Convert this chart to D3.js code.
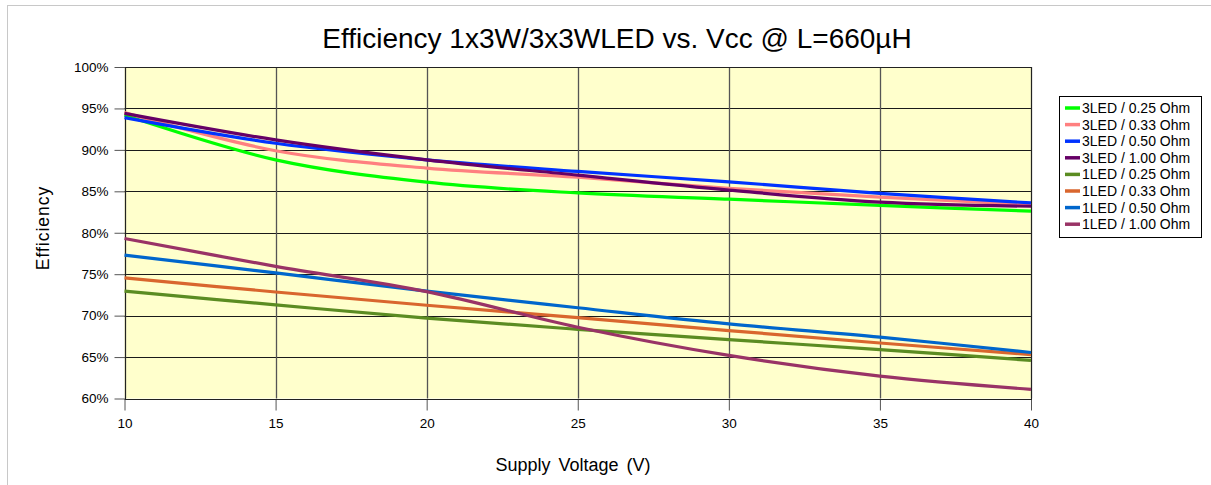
<!DOCTYPE html>
<html>
<head>
<meta charset="utf-8">
<script src="https://cdn.jsdelivr.net/npm/d3@7"></script>
<style>
  body { margin: 0; background: #fff; }
  text { font-family: "Liberation Sans", Arial, sans-serif; fill: #000; }
</style>
</head>
<body>
<svg id="chart" width="1211" height="485"></svg>
<script>
// supply voltage (V) at which efficiency was read
var voltage = [10, 15, 20, 25, 30, 35, 40];

var seriesNames = [
  "3LED / 0.25 Ohm", "3LED / 0.33 Ohm", "3LED / 0.50 Ohm", "3LED / 1.00 Ohm",
  "1LED / 0.25 Ohm", "1LED / 0.33 Ohm", "1LED / 0.50 Ohm", "1LED / 1.00 Ohm"
];
var seriesColors = [
  "#00ff00", "#ff8080", "#0033ff", "#660066",
  "#5b8c22", "#d9662e", "#0066cc", "#993366"
];

// efficiency in %
var led3_025 = [94.2, 88.8, 86.1, 84.8, 84.05, 83.3, 82.6];
var led3_033 = [94.5, 89.9, 87.8, 86.7, 85.35, 84.3, 83.4];
var led3_050 = [93.9, 90.8, 88.8, 87.4, 86.15, 84.75, 83.6];
var led3_100 = [94.4, 91.2, 88.8, 86.95, 85.15, 83.7, 83.2];
var led1_025 = [72.95, 71.3, 69.7, 68.35, 67.1, 65.9, 64.6];
var led1_033 = [74.55, 72.85, 71.25, 69.75, 68.2, 66.7, 65.3];
var led1_050 = [77.3, 75.15, 72.95, 70.95, 69.0, 67.4, 65.55];
var led1_100 = [79.3, 75.95, 72.9, 68.6, 65.2, 62.7, 61.1];

var seriesValues = [led3_025, led3_033, led3_050, led3_100,
                    led1_025, led1_033, led1_050, led1_100];

var xTicks = [10, 15, 20, 25, 30, 35, 40];
var yTicks = [60, 65, 70, 75, 80, 85, 90, 95, 100];

var svg = d3.select("#chart");

// outer chart frame
svg.append("rect")
    .attr("x", 7.5).attr("y", 5.5)
    .attr("width", 1220).attr("height", 500)
    .attr("fill", "none").attr("stroke", "#c8c8c8");

var x = d3.scaleLinear().domain([10, 40]).range([124.5, 1031]);
var y = d3.scaleLinear().domain([60, 100]).range([398.5, 67]);

// plot area
svg.append("rect")
    .attr("x", x(10)).attr("y", y(100))
    .attr("width", x(40) - x(10)).attr("height", y(60) - y(100))
    .attr("fill", "#ffffcc");

// grid
svg.append("g").selectAll("line").data(yTicks).join("line")
    .attr("x1", x(10)).attr("x2", x(40))
    .attr("y1", function(d) { return Math.round(y(d)) + 0.5; })
    .attr("y2", function(d) { return Math.round(y(d)) + 0.5; })
    .attr("stroke", "#1a1a1a").attr("stroke-width", 1);

svg.append("g").selectAll("line").data(xTicks).join("line")
    .attr("x1", function(d) { return Math.round(x(d)) + 0.5; })
    .attr("x2", function(d) { return Math.round(x(d)) + 0.5; })
    .attr("y1", y(100)).attr("y2", y(60))
    .attr("stroke", "#555").attr("stroke-width", 1.3);

// axes
var yAxis = svg.append("g")
    .attr("transform", "translate(" + (Math.round(x(10)) + 0.5) + ",0)")
    .call(d3.axisLeft(y).tickValues(yTicks).tickSize(11).tickPadding(6)
        .tickFormat(function(d) { return d + "%"; }));

var xAxis = svg.append("g")
    .attr("transform", "translate(0," + (Math.round(y(60)) + 0.5) + ")")
    .call(d3.axisBottom(x).tickValues(xTicks).tickSize(11).tickPadding(8));

[xAxis, yAxis].forEach(function(a) {
  a.select(".domain").remove();
  a.selectAll(".tick line").attr("stroke", "#555");
  a.selectAll("text").style("font-size", "13.5px")
      .style("font-family", "'Liberation Sans', Arial, sans-serif");
});

// plot border
svg.append("rect")
    .attr("x", Math.round(x(10)) + 0.5).attr("y", Math.round(y(100)) + 0.5)
    .attr("width", Math.round(x(40)) - Math.round(x(10)))
    .attr("height", Math.round(y(60)) - Math.round(y(100)))
    .attr("fill", "none").attr("stroke", "#222");

// lines
var line = d3.line()
    .x(function(d, i) { return x(voltage[i]); })
    .y(function(d) { return y(d); })
    .curve(d3.curveCatmullRom.alpha(0.5));

svg.append("g").selectAll("path").data(seriesValues).join("path")
    .attr("d", line)
    .attr("fill", "none")
    .attr("stroke", function(d, i) { return seriesColors[i]; })
    .attr("stroke-width", 3.2);

// title and axis titles
svg.append("text")
    .attr("x", 617).attr("y", 48)
    .attr("text-anchor", "middle")
    .style("font-size", "28px")
    .text("Efficiency 1x3W/3x3WLED vs. Vcc @ L=660µH");

svg.append("text")
    .attr("x", 573).attr("y", 471)
    .attr("text-anchor", "middle")
    .style("font-size", "18px")
    .style("word-spacing", "3px")
    .text("Supply Voltage (V)");

svg.append("text")
    .attr("transform", "translate(49,228) rotate(-90)")
    .attr("text-anchor", "middle")
    .style("font-size", "17.5px")
    .style("letter-spacing", "1px")
    .text("Efficiency");

// legend
var legend = svg.append("g");
legend.append("rect")
    .attr("x", 1059.5).attr("y", 96.5)
    .attr("width", 142).attr("height", 141)
    .attr("fill", "#fff").attr("stroke", "#000");

var items = legend.selectAll("g").data(seriesNames).join("g")
    .attr("transform", function(d, i) { return "translate(0," + (108 + i * 16.6) + ")"; });
items.append("line")
    .attr("x1", 1065).attr("x2", 1080)
    .attr("stroke", function(d, i) { return seriesColors[i]; })
    .attr("stroke-width", 3.5);
items.append("text")
    .attr("x", 1082).attr("y", 5)
    .style("font-size", "14px")
    .text(function(d) { return d; });
</script>
</body>
</html>
